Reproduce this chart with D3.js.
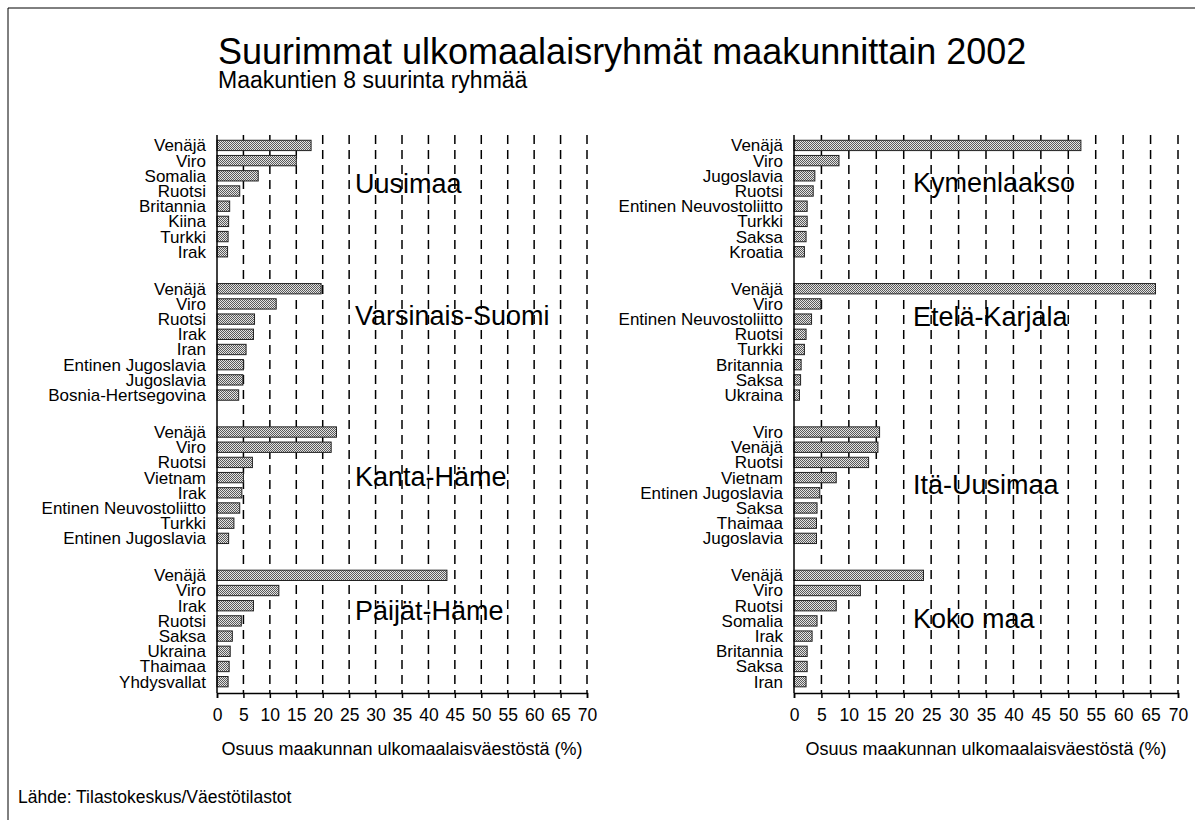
<!DOCTYPE html>
<html>
<head>
<meta charset="utf-8">
<script src="https://cdn.jsdelivr.net/npm/d3@7"></script>
<style>
  body { margin: 0; background: #fff; }
  text { font-family: "Liberation Sans", Arial, sans-serif; fill: #000; }
</style>
</head>
<body>
<div id="kuva"></div>
<script>
// arvot luettu kuvasta (osuus maakunnan ulkomaalaisväestöstä, %)
var tickArvot = [0, 5, 10, 15, 20, 25, 30, 35, 40, 45, 50, 55, 60, 65, 70];

var uusimaaMaat = ["Venäjä", "Viro", "Somalia", "Ruotsi", "Britannia", "Kiina", "Turkki", "Irak"];
var uusimaaOsuus = [17.8, 15.0, 7.8, 4.3, 2.4, 2.2, 2.1, 2.0];

var varsinaisMaat = ["Venäjä", "Viro", "Ruotsi", "Irak", "Iran", "Entinen Jugoslavia", "Jugoslavia", "Bosnia-Hertsegovina"];
var varsinaisOsuus = [19.7, 11.2, 7.1, 6.9, 5.5, 5.0, 4.9, 4.1];

var kantaMaat = ["Venäjä", "Viro", "Ruotsi", "Vietnam", "Irak", "Entinen Neuvostoliitto", "Turkki", "Entinen Jugoslavia"];
var kantaOsuus = [22.6, 21.6, 6.7, 5.0, 4.7, 4.3, 3.2, 2.2];

var paijatMaat = ["Venäjä", "Viro", "Irak", "Ruotsi", "Saksa", "Ukraina", "Thaimaa", "Yhdysvallat"];
var paijatOsuus = [43.5, 11.7, 6.9, 4.6, 2.9, 2.5, 2.3, 2.1];

var kymenMaat = ["Venäjä", "Viro", "Jugoslavia", "Ruotsi", "Entinen Neuvostoliitto", "Turkki", "Saksa", "Kroatia"];
var kymenOsuus = [52.3, 8.2, 3.8, 3.5, 2.4, 2.4, 2.2, 1.9];

var etelaMaat = ["Venäjä", "Viro", "Entinen Neuvostoliitto", "Ruotsi", "Turkki", "Britannia", "Saksa", "Ukraina"];
var etelaOsuus = [65.9, 4.9, 3.2, 2.2, 1.9, 1.3, 1.2, 1.0];

var itaMaat = ["Viro", "Venäjä", "Ruotsi", "Vietnam", "Entinen Jugoslavia", "Saksa", "Thaimaa", "Jugoslavia"];
var itaOsuus = [15.6, 15.3, 13.6, 7.7, 4.7, 4.2, 4.1, 4.1];

var kokoMaat = ["Venäjä", "Viro", "Ruotsi", "Somalia", "Irak", "Britannia", "Saksa", "Iran"];
var kokoOsuus = [23.6, 12.1, 7.7, 4.2, 3.3, 2.4, 2.4, 2.2];

var vasenRyhmat = [
  { nimi: "Uusimaa", maat: uusimaaMaat, osuus: uusimaaOsuus },
  { nimi: "Varsinais-Suomi", maat: varsinaisMaat, osuus: varsinaisOsuus },
  { nimi: "Kanta-Häme", maat: kantaMaat, osuus: kantaOsuus },
  { nimi: "Päijät-Häme", maat: paijatMaat, osuus: paijatOsuus }
];
var oikeaRyhmat = [
  { nimi: "Kymenlaakso", maat: kymenMaat, osuus: kymenOsuus },
  { nimi: "Etelä-Karjala", maat: etelaMaat, osuus: etelaOsuus },
  { nimi: "Itä-Uusimaa", maat: itaMaat, osuus: itaOsuus },
  { nimi: "Koko maa", maat: kokoMaat, osuus: kokoOsuus }
];

// maakunnan nimen paikka riveinä ryhmän alusta (asettelu)
var nimiRivi = {
  "Uusimaa": 2.7, "Varsinais-Suomi": 1.9, "Kanta-Häme": 3.1, "Päijät-Häme": 2.5,
  "Kymenlaakso": 2.6, "Etelä-Karjala": 2.0, "Itä-Uusimaa": 3.6, "Koko maa": 3.0
};

var width = 1195, height = 820;
var yYla = 135, yAla = 693;

var svg = d3.select("#kuva").append("svg")
  .attr("width", width)
  .attr("height", height);

// rasterikuvio pylväille
var defs = svg.append("defs");
var pat = defs.append("pattern")
  .attr("id", "rasteri")
  .attr("width", 2).attr("height", 2)
  .attr("patternUnits", "userSpaceOnUse");
pat.append("rect").attr("width", 2).attr("height", 2).attr("fill", "#e4e4e4");
pat.append("rect").attr("width", 1).attr("height", 1).attr("fill", "#5a5a5a");
pat.append("rect").attr("x", 1).attr("y", 1).attr("width", 1).attr("height", 1).attr("fill", "#5a5a5a");

// kehys
svg.append("line").attr("x1", 8).attr("x2", width).attr("y1", 8).attr("y2", 8)
  .attr("stroke", "#000").attr("stroke-width", 1);
svg.append("line").attr("x1", 8).attr("x2", 8).attr("y1", 8).attr("y2", height)
  .attr("stroke", "#000").attr("stroke-width", 1);

svg.append("text")
  .attr("x", 218).attr("y", 64)
  .style("font-size", "36px")
  .text("Suurimmat ulkomaalaisryhmät maakunnittain 2002");
svg.append("text")
  .attr("x", 218).attr("y", 88)
  .style("font-size", "23px")
  .text("Maakuntien 8 suurinta ryhmää");

svg.append("text")
  .attr("x", 18).attr("y", 803)
  .style("font-size", "17.5px")
  .text("Lähde: Tilastokeskus/Väestötilastot");

function paneeli(ryhmat, x0, x1, nimiX) {
  var x = d3.scaleLinear().domain([0, 70]).range([x0, x1]);
  var yRyhma = d3.scaleBand()
    .domain(ryhmat.map(function(d) { return d.nimi }))
    .range([135.4, 691.7])
    .paddingInner(0.118)
    .paddingOuter(0);

  var g = svg.append("g");

  // katkoviivat
  g.selectAll(".grid")
    .data(tickArvot.filter(function(t) { return t > 0 }))
    .enter().append("line")
    .attr("x1", function(d) { return x(d) })
    .attr("x2", function(d) { return x(d) })
    .attr("y1", yYla).attr("y2", yAla)
    .attr("stroke", "#000")
    .attr("stroke-width", 1.5)
    .attr("stroke-dasharray", "9,6");

  ryhmat.forEach(function(r) {
    var y = d3.scaleBand()
      .domain(d3.range(r.maat.length))
      .range([yRyhma(r.nimi), yRyhma(r.nimi) + yRyhma.bandwidth()])
      .padding(0.32);
    var rivi = y.step();

    var gr = g.append("g");
    gr.selectAll("rect")
      .data(r.osuus)
      .enter().append("rect")
      .attr("x", x(0))
      .attr("y", function(d, i) { return y(i) })
      .attr("width", function(d) { return x(d) - x(0) })
      .attr("height", y.bandwidth())
      .attr("fill", "url(#rasteri)")
      .attr("stroke", "#222")
      .attr("stroke-width", 1);

    gr.selectAll("text.maa")
      .data(r.maat)
      .enter().append("text")
      .attr("class", "maa")
      .attr("x", x(0) - 11)
      .attr("y", function(d, i) { return y(i) + y.bandwidth() / 2 })
      .attr("dy", "0.35em")
      .attr("text-anchor", "end")
      .style("font-size", "17px")
      .text(function(d) { return d });

    gr.append("text")
      .attr("x", nimiX)
      .attr("y", yRyhma(r.nimi) + rivi * (nimiRivi[r.nimi] + 0.5))
      .attr("dy", "0.35em")
      .style("font-size", "27px")
      .text(r.nimi);
  });

  // y-akseli
  g.append("line")
    .attr("x1", x(0)).attr("x2", x(0))
    .attr("y1", yYla).attr("y2", yAla)
    .attr("stroke", "#000").attr("stroke-width", 1.5);

  var akseli = d3.axisBottom(x)
    .tickValues(tickArvot)
    .tickSize(5)
    .tickPadding(11)
    .tickFormat(d3.format("d"));

  var ax = g.append("g")
    .attr("transform", "translate(0," + yAla + ")")
    .call(akseli);
  ax.select(".domain").attr("stroke-width", 1.5);
  ax.selectAll(".tick line").attr("stroke-width", 1.5);
  ax.selectAll("text")
    .style("font-size", "17.5px")
    .style("font-family", "'Liberation Sans', Arial, sans-serif")
    .attr("fill", "#000");

  g.append("text")
    .attr("x", (x0 + x1) / 2)
    .attr("y", 755)
    .attr("text-anchor", "middle")
    .style("font-size", "18px")
    .text("Osuus maakunnan ulkomaalaisväestöstä (%)");
}

paneeli(vasenRyhmat, 217, 587, 355);
paneeli(oikeaRyhmat, 794, 1178, 913);
</script>
</body>
</html>
